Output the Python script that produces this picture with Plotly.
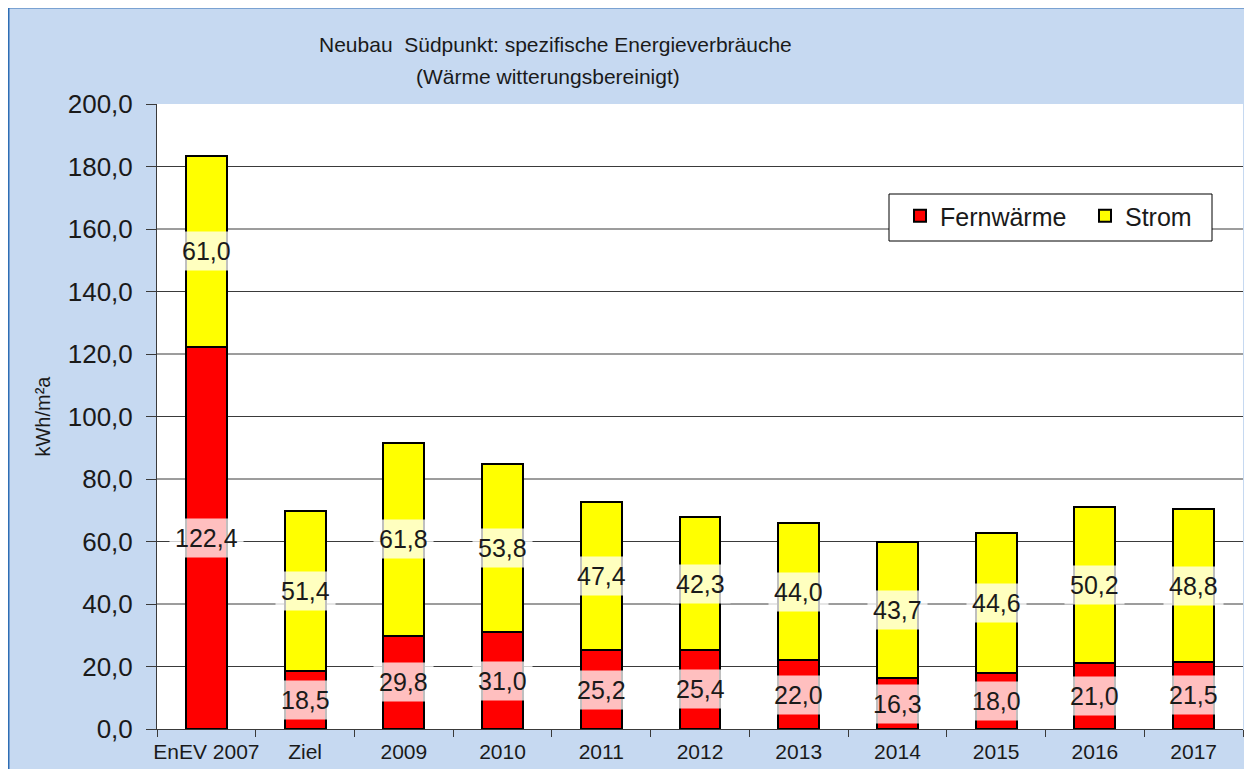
import plotly.graph_objects as go

categories = ["EnEV 2007", "Ziel", "2009", "2010", "2011", "2012", "2013", "2014", "2015", "2016", "2017"]
fernwaerme = [122.4, 18.5, 29.8, 31.0, 25.2, 25.4, 22.0, 16.3, 18.0, 21.0, 21.5]
strom = [61.0, 51.4, 61.8, 53.8, 47.4, 42.3, 44.0, 43.7, 44.6, 50.2, 48.8]
y_ticks = [0, 20, 40, 60, 80, 100, 120, 140, 160, 180, 200]

# page offset of the figure (default body margin)
OFF = 8
W, H = 1252, 769
# plot area in screenshot pixels
SX0, SX1, SY0, SY1 = 157, 1243, 104, 729
L, T = SX0 - OFF, SY0 - OFF
R, B = W - (SX1 - OFF), H - (SY1 - OFF)
PW, PH = SX1 - SX0, SY1 - SY0

def px_x(sx):
    return (sx - SX0) / PW

def px_y(sy):
    return (SY1 - sy) / PH

def fmt(v):
    return f"{v:.1f}".replace(".", ",")

BG = "#C6D9F1"
FONT = "Liberation Sans, Arial, sans-serif"
TXT = "#1a1a1a"

fig = go.Figure()
fig.add_trace(go.Bar(
    x=categories, y=fernwaerme, name="Fernwärme",
    marker=dict(color="#FF0000", line=dict(color="#000000", width=2)),
    width=0.415,
))
fig.add_trace(go.Bar(
    x=categories, y=strom, name="Strom",
    marker=dict(color="#FFFF00", line=dict(color="#000000", width=2)),
    width=0.415,
))

annotations = []
for i, (f, s) in enumerate(zip(fernwaerme, strom)):
    for val, ymid in ((f, f / 2), (s, f + s / 2)):
        annotations.append(dict(
            x=i, y=ymid, xref="x", yref="y", text=fmt(val), showarrow=False,
            font=dict(family=FONT, size=25, color=TXT),
            bgcolor="rgba(255,255,255,0.75)", borderpad=5, height=28,
        ))

# title (two lines)
annotations.append(dict(
    x=px_x(555), y=px_y(45), xref="paper", yref="paper",
    text="Neubau  Südpunkt: spezifische Energieverbräuche",
    showarrow=False, font=dict(family=FONT, size=21, color=TXT),
    xanchor="center", yanchor="middle",
))
annotations.append(dict(
    x=px_x(548), y=px_y(76), xref="paper", yref="paper",
    text="(Wärme witterungsbereinigt)",
    showarrow=False, font=dict(family=FONT, size=21, color=TXT),
    xanchor="center", yanchor="middle",
))

shapes = []
# gridlines (excluding the top edge)
for v in y_ticks[1:-1]:
    shapes.append(dict(type="line", xref="paper", yref="y", x0=0, x1=1, y0=v, y1=v,
                       line=dict(color="#3a3a3a", width=1), layer="below"))
# legend box
shapes.append(dict(type="rect", xref="paper", yref="paper",
                   x0=px_x(889), x1=px_x(1212), y0=px_y(241), y1=px_y(194),
                   fillcolor="#FFFFFF", line=dict(color="#000000", width=1), layer="above"))
# outer border (top and left)
shapes.append(dict(type="line", xref="paper", yref="paper",
                   x0=px_x(8), x1=px_x(W + 20), y0=px_y(7.5), y1=px_y(7.5),
                   line=dict(color="#2E6DB4", width=2)))
shapes.append(dict(type="line", xref="paper", yref="paper",
                   x0=px_x(8.5), x1=px_x(8.5), y0=px_y(7), y1=px_y(H + 20),
                   line=dict(color="#2E6DB4", width=2)))

fig.update_layout(
    width=W, height=H, autosize=False,
    margin=dict(l=L, r=R, t=T, b=B, autoexpand=False),
    paper_bgcolor=BG, plot_bgcolor="#FFFFFF",
    barmode="stack", bargap=0.5,
    separators=",.",
    font=dict(family=FONT, color=TXT),
    showlegend=True,
    legend=dict(
        orientation="h", x=px_x(900), y=px_y(193), xanchor="left", yanchor="top",
        bgcolor="rgba(0,0,0,0)", borderwidth=0,
        font=dict(family=FONT, size=25, color=TXT),
        traceorder="normal", itemwidth=30, entrywidth=140,
    ),
    xaxis=dict(
        type="category", showgrid=False, showline=True, linecolor="#3a3a3a", linewidth=1,
        ticks="outside", tickson="boundaries", ticklen=7, tickcolor="#3a3a3a",
        tickfont=dict(family=FONT, size=21, color=TXT), tickangle=0, automargin=False,
        ticklabelstandoff=4,
        range=[-0.5, len(categories) - 0.5],
    ),
    yaxis=dict(
        range=[0, 200], tickvals=y_ticks, tickformat=".1f", showgrid=False,
        showline=True, linecolor="#3a3a3a", linewidth=1,
        ticks="outside", ticklen=10, tickcolor="#3a3a3a", automargin=False,
        ticklabelstandoff=8,
        tickfont=dict(family=FONT, size=26, color=TXT),
        title=dict(text="kWh/m²a", font=dict(family=FONT, size=20, color=TXT), standoff=11),
    ),
    annotations=annotations,
    shapes=shapes,
)

fig.write_html("out.html")
